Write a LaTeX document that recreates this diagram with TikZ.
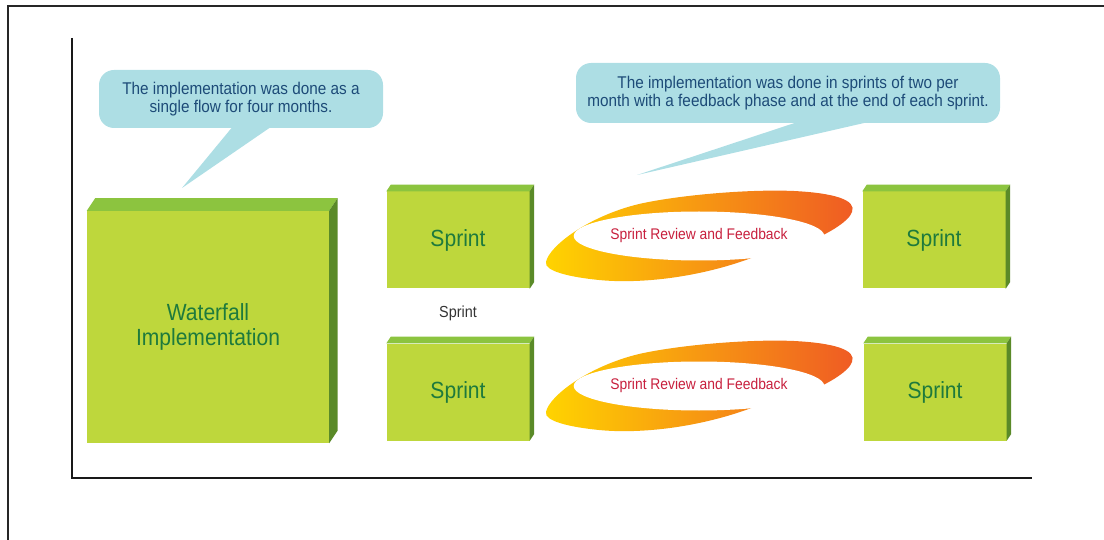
\documentclass[tikz,border=0pt]{standalone}
\usepackage{fontspec}
\setmainfont[FakeStretch=0.9]{Liberation Sans}
\usepackage{tikz}
\usetikzlibrary{positioning,shapes.geometric,calc}
\definecolor{slabfront}{HTML}{BED73C}
\definecolor{slabtopc}{HTML}{8CC43F}
\definecolor{slabsidec}{HTML}{5A8A28}
\definecolor{leaf}{HTML}{1E7A3C}
\definecolor{sky}{HTML}{ADDEE4}
\definecolor{ink}{HTML}{1D4B78}
\definecolor{berry}{HTML}{C8203E}
\definecolor{sunny}{HTML}{FFD400}
\definecolor{amber}{HTML}{F7941D}
\definecolor{ember}{HTML}{EF5A24}
\tikzset{
  slab/.style={fill=slabfront, text=leaf, align=center, inner sep=0pt,
               font=\fontsize{23.4}{25}\selectfont},
  sprintbox/.style={slab, minimum width=143pt, minimum height=97pt},
  bubble/.style={fill=sky, rounded corners=15pt, text=ink, align=center, inner sep=0pt,
                 font=\fontsize{17}{18}\selectfont},
  review/.style={ellipse, fill=white, text=berry, inner sep=0pt,
                 minimum width=222pt, minimum height=49pt, font=\fontsize{15.4}{16}\selectfont},
  swoosh/.style={left color=sunny, middle color=amber, right color=ember},
  rule/.style={line width=1.2pt, draw=black!90},
  frame/.style={line width=2pt, draw=black!85},
}

\begin{document}
\begin{tikzpicture}[x=1pt, y=-1pt]
  \useasboundingbox (0,0) rectangle (1104,540);
  % page frame and axes
  \draw[frame] (8,540) -- (8,6) -- (1104,6);
  \draw[rule] (72,38) -- (72,478) -- (1032,478);

  % callouts
  \coordinate (tipA) at (182,188);
  \coordinate (tipB) at (637,175);
  \node[bubble, minimum width=284pt, minimum height=58pt] (noteW) at (241,99)
    {The implementation was done as a\\single flow for four months.};
  \node[bubble, minimum width=424pt, minimum height=60pt] (noteS) at (788,93)
    {The implementation was done in sprints of two per\\month with a feedback phase and at the end of each sprint.};
  \fill[sky] ($(noteW.south)+(-8,-2)$) -- (tipA) -- ($(noteW.south)+(31,-2)$) -- cycle;
  \fill[sky] ($(noteS.south)+(12,-2)$) -- (tipB) -- ($(noteS.south)+(84,-2)$) -- cycle;

  % slabs
  \node[slab, minimum width=242pt, minimum height=232pt] (wf) at (208,327) {Waterfall\\Implementation};
  \node[sprintbox] (s1) at (458,240) {Sprint};
  \node[sprintbox] (s2) at (458,392) {Sprint};
  \node[sprintbox] (s3) at (934,240) {Sprint};
  \node[sprintbox] (s4) at (935,392) {Sprint};
  \foreach \n/\d in {wf/8.5,s1/4.5,s2/4.5,s3/4.5,s4/4.5} {
    \fill[slabtopc] (\n.north west) -- ++(\d,-1.5*\d) -- ($(\n.north east)+(\d,-1.5*\d)$) -- (\n.north east) -- cycle;
    \fill[slabsidec] (\n.north east) -- ++(\d,-1.5*\d) -- ($(\n.south east)+(\d,-1.5*\d)$) -- (\n.south east) -- cycle;
  }
  \node[font=\fontsize{16}{16}\selectfont, text=black!80] (tag) at (458,313) {Sprint};

  % review swooshes
  \foreach \row/\yy in {1/236,2/386} {
    \begin{scope}[shift={(699,\yy)}]
      \shade[swoosh] (55,21) .. controls (0,42) and (-60,48) .. (-100,44)
        .. controls (-130,41) and (-155,35) .. (-153,26)
        .. controls (-150,10) and (-110,-20) .. (-60,-32)
        .. controls (-20,-41) and (50,-47) .. (95,-45)
        .. controls (135,-43) and (158,-36) .. (153,-24)
        .. controls (150,-14) and (125,0) .. (108,6) -- cycle;
    \end{scope}
    \node[review] (rv\row) at (699,\yy) {Sprint Review and Feedback};
  }
\end{tikzpicture}
\end{document}
